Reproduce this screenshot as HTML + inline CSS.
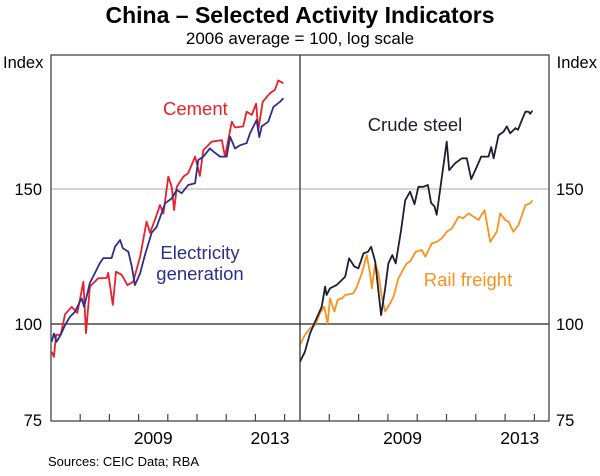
<!DOCTYPE html>
<html><head><meta charset="utf-8"><style>
body{margin:0;background:#fff;}
svg text{font-family:"Liberation Sans",Arial,sans-serif;}
</style></head><body>
<svg width="600" height="471" viewBox="0 0 600 471" xmlns="http://www.w3.org/2000/svg">
<text x="300" y="23" text-anchor="middle" font-size="23" font-weight="bold">China – Selected Activity Indicators</text>
<text x="300" y="44" text-anchor="middle" font-size="17">2006 average = 100, log scale</text>
<g id="grid"></g>
<g id="series"></g>
<rect x="51" y="55" width="498" height="366" fill="none" stroke="#444" stroke-width="1.3"/>
<line x1="300" y1="55" x2="300" y2="421" stroke="#333" stroke-width="1.3"/>
<g id="axes"></g>
<text x="3" y="68" font-size="16.5">Index</text>
<text x="597" y="68" font-size="16.5" text-anchor="end">Index</text>
<text x="163" y="115" font-size="18.5" fill="#e8202a">Cement</text>
<text x="200" y="259" font-size="18.5" fill="#2e2e8c" text-anchor="middle">Electricity</text>
<text x="200" y="280" font-size="18.5" fill="#2e2e8c" text-anchor="middle">generation</text>
<text x="415" y="131" font-size="18.5" fill="#1e1e32" text-anchor="middle">Crude steel</text>
<text x="468" y="286" font-size="18.5" fill="#f7941d" text-anchor="middle">Rail freight</text>
<text x="48" y="466" font-size="13">Sources: CEIC Data; RBA</text>
<script>
var yTicks=[75,100,150];
var yearLabels=[2009,2013];
var cementMonths=[0.3,1.2,2.1,4,5.8,8.5,10.8,13.3,14.4,16,19.4,22.9,23.5,25.4,26.7,29.1,31.4,33.8,36.6,39.3,40.7,42.7,44.8,46.2,48.2,49.6,50.6,51.7,54.4,56.4,59.2,61.2,62.6,66,70.2,71.5,74.3,75.6,79,80.4,82.5,84.3,85.2,87,90,92,93.4,95.5];
var cementValues=[92,90.6,96.8,96.8,103,105.3,103.4,113.5,97.3,111.9,114.7,114.8,116.6,105.9,117,115.9,112.4,113.5,122.4,136,131.5,136.7,142.9,139.4,155.7,151,140.8,151,155.7,157.3,165.3,156,168.6,172.9,173.7,165.3,183.6,180.4,181,189.2,187.4,193.8,179.2,194.9,200,202,207.8,206];
var elecMonths=[0.3,1.2,2.3,4,5.8,7.8,9.9,11.6,12.6,13.6,16,18.1,20.1,21.5,24.9,26.3,28.4,29.5,31.8,33.2,34.5,36.6,38.6,41.4,43.4,46.9,49.6,51.7,53.7,56.4,59.2,60.5,62.6,65.3,67.4,69.5,72.2,73.6,75.6,77.7,80.4,81.8,84.5,85.6,86.6,89.3,91.4,94.1,95.5];
var elecValues=[94.8,97.2,94.8,96.8,99.7,102.2,103.8,106.5,108,105.3,113.1,116.6,120.1,121.9,121.9,126.1,128.7,125.6,124.2,118.8,112.4,116.4,123,131.6,133.8,143.7,145.8,149.6,148.1,151.8,152.6,163.6,165.3,169.4,167.2,165.3,165.3,175.5,169.4,171.1,172.1,177.3,184.5,175.3,181,183.6,191.9,194.9,197];
var steelMonths=[0,2,4.1,6.2,8.9,10.3,10.9,12.3,15,18.5,20.1,22.3,23.9,26,27.8,29.1,30.8,33.2,34.9,36.2,37.8,39.2,41.4,43.1,45.1,46.9,48.5,50.6,52.4,53.7,55.1,56,58.1,60.1,61.1,63.6,66.3,68.3,70.1,72.4,74.2,77.2,78.3,79.3,81.3,83.4,84.7,86.1,88.2,89.3,90.9,92.3,93.6,94.3,95.2];
var steelValues=[89.3,92,97.2,100.7,105.3,111.9,109.1,111.3,112.4,115.3,121.8,118.8,118.2,123.6,124.2,126.1,120.6,102.7,111.3,120,123,120,132.6,145,148.8,143.3,151,151,151.8,143.9,142.3,138.8,155.7,172.9,158.7,162.1,164.5,164.5,154.5,160.4,165.3,165.3,170.1,164.5,176.2,178.2,181,177.3,180.1,179.2,184.5,189.2,189.2,188,189.8];
var railMonths=[0,2,4.1,6.2,8.2,9.9,11.3,12.3,14.1,15.4,17.1,18.5,21.9,23.3,25.3,27.3,28.7,29.4,30.8,32.1,33.5,34.9,36.9,38.3,40.3,43.7,45.1,47.4,49.9,51.3,54,56,58.1,60.1,62.2,64.9,66.9,69,73.1,75.6,77.9,80.6,82,84,85.4,87.4,89.5,92.3,94.3,95.2];
var railValues=[93.9,96.8,98.7,99.7,103.3,105.3,100.2,108,103.8,107.5,108,109.1,109.7,111.9,116.4,123,116.4,111.3,120,116.4,108.5,103.8,106.4,108.5,114.7,120,120.6,124.2,124.9,122.4,127.4,128,129.3,131.9,133.2,138,137.4,139.4,136.7,140.8,128,131.9,139.4,136.7,136,131.9,134.6,142.9,143.7,145];

var NS='http://www.w3.org/2000/svg';
function yPos(v){return 324-333*Math.log(v/100);}
function xLeft(m){return 51+m*29.2/12;}
function xRight(m){return 300+m*29.3/12;}
function mk(tag,attrs,parent){var e=document.createElementNS(NS,tag);for(var k in attrs)e.setAttribute(k,attrs[k]);document.getElementById(parent).appendChild(e);return e;}

yTicks.forEach(function(t){
  var y=yPos(t);
  if(t!==75){
    var g=mk('line',{x1:51,x2:549,y1:y,y2:y,stroke:t===100?'#222':'#b9a5a8','stroke-width':t===100?1.2:1},'grid');
    
    
  }
  var a=mk('text',{x:42,y:y+6,'text-anchor':'end','font-size':16.5},'axes');a.textContent=t;
  
  
  var b=mk('text',{x:556,y:y+6,'font-size':16.5},'axes');b.textContent=t;
  
  
});
for(var i=1;i<=8;i++){
  [xLeft,xRight].forEach(function(f){
    var x=f(i*12);
    var tk=mk('line',{x1:x,x2:x,y1:421,y2:414,stroke:'#444','stroke-width':1.2},'axes');
    
    
  });
}
yearLabels.forEach(function(yr){
  var m=(yr-2006)*12+6;
  [xLeft,xRight].forEach(function(f){
    var t=mk('text',{x:f(m),y:444,'text-anchor':'middle','font-size':17.5},'axes');t.textContent=yr;
    
    
  });
});
function line(ms,vs,fx,color,name){
  var d=ms.map(function(m,i){return (i?'L':'M')+fx(m).toFixed(1)+','+yPos(vs[i]).toFixed(1);}).join('');
  var p=mk('path',{d:d,fill:'none',stroke:color,'stroke-width':1.8,'stroke-linejoin':'round'},'series');
  
  
}
line(cementMonths,cementValues,xLeft,'#e8202a','cement-line');
line(elecMonths,elecValues,xLeft,'#2e2e8c','electricity-line');
line(railMonths,railValues,xRight,'#f7941d','rail-freight-line');
line(steelMonths,steelValues,xRight,'#1e1e32','crude-steel-line');
</script>
</svg>
</body></html>
